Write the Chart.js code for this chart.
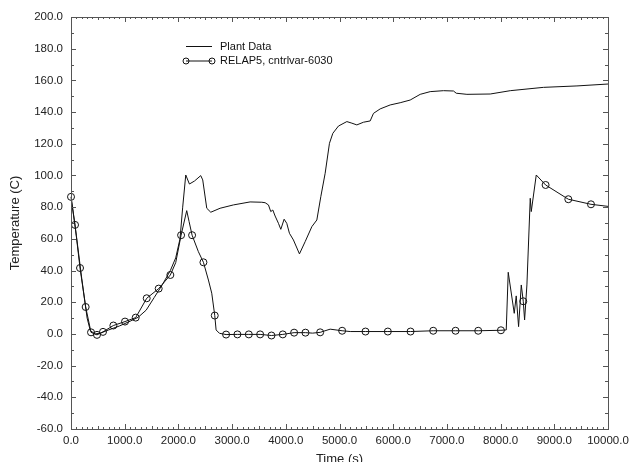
<!DOCTYPE html>
<html>
<head>
<meta charset="utf-8">
<script src="https://cdn.jsdelivr.net/npm/chart.js@4.4.1/dist/chart.umd.min.js"></script>
<style>
  html, body { margin: 0; padding: 0; background: #fff; }
</style>
</head>
<body>
<canvas id="chart" width="630" height="462"></canvas>
<script>
// Plant data (time in s, temperature in C)
const plantTime = [0, 100, 200, 300, 360, 450, 550, 700, 900, 1100, 1250, 1400, 1550, 1700, 1850, 1950, 2030, 2080, 2137, 2205, 2300, 2416, 2453, 2528, 2603, 2776, 3024, 3335, 3553, 3615, 3677, 3720, 3758, 3801, 3863, 3907, 3969, 4018, 4068, 4142, 4254, 4360, 4485, 4578, 4652, 4733, 4813, 4876, 4981, 5137, 5230, 5323, 5447, 5571, 5633, 5757, 5944, 6130, 6316, 6503, 6689, 6937, 7123, 7174, 7373, 7807, 8180, 8800, 9422, 10000];
const plantTemp = [86.5, 62, 35, 10, 2, 0, 0.5, 2.5, 5, 8, 10.5, 15, 23, 31, 40, 48, 60, 80, 100.3, 94.6, 96.5, 99.9, 97.2, 79.3, 76.8, 79.3, 81.4, 83.3, 83.1, 82.8, 81.4, 77.2, 78.2, 74.4, 69.8, 66, 72.4, 69.8, 63.5, 59.3, 50.5, 58.2, 67.7, 71.9, 86.6, 101.4, 120.3, 126.6, 131.2, 134, 133, 131.9, 133.6, 134.4, 139.2, 142, 144.5, 145.9, 147.6, 151.2, 152.9, 153.5, 153.3, 151.9, 151.2, 151.4, 153.5, 155.6, 156.5, 157.7];

// RELAP5 cntrlvar-6030
const relapTime = [0, 75, 168, 273, 373, 484, 596, 789, 1006, 1205, 1410, 1633, 1850, 1950, 2050, 2155, 2199, 2255, 2372, 2466, 2559, 2621, 2677, 2702, 2764, 2888, 3099, 3311, 3522, 3733, 3944, 4155, 4366, 4500, 4640, 4826, 5049, 5200, 5484, 5900, 6323, 6745, 7161, 7583, 8006, 8105, 8142, 8254, 8291, 8335, 8385, 8422, 8447, 8490, 8552, 8571, 8664, 8838, 9261, 9683, 10000];
const relapTemp = [86.5, 68.8, 41.6, 17, 1, -0.6, 1.3, 5.3, 7.8, 10.3, 22.5, 28.6, 37.2, 45, 62.3, 77.8, 70.9, 62.3, 51.9, 45.2, 34, 25.7, 11.6, 2.5, 0.4, -0.4, -0.3, -0.3, -0.3, -1, -0.3, 0.8, 0.8, 0.5, 1.0, 3, 2.0, 1.5, 1.5, 1.5, 1.5, 2.0, 2.0, 2.0, 2.3, 2.5, 38.9, 13, 24, 4.6, 30.9, 20.6, 8.8, 30.9, 85.6, 77.2, 100.3, 94, 85, 81.8, 80.5];
// times at which the RELAP5 curve carries a circle symbol
const relapMarkerTime = [0, 75, 168, 273, 373, 484, 596, 789, 1006, 1205, 1410, 1633, 1850, 2050, 2255, 2466, 2677, 2888, 3099, 3311, 3522, 3733, 3944, 4155, 4366, 4640, 5049, 5484, 5900, 6323, 6745, 7161, 7583, 8006, 8422, 8838, 9261, 9683];

const seriesNames = ["Plant Data", "RELAP5, cntrlvar-6030"];
const xMin = 0, xMax = 10000, xStep = 1000;
const yMin = -60, yMax = 200, yStep = 20;

const textFont = "'Liberation Sans', Arial, sans-serif";

// Box round the plot with small inward ticks on all four sides
const frameTicks = {
    id: 'frameTicks',
    afterDatasetsDraw(chart) {
        const { ctx, chartArea: a, scales: { x, y } } = chart;
        ctx.save();
        ctx.strokeStyle = '#555';
        ctx.lineWidth = 1;
        ctx.strokeRect(a.left + 0.5, a.top + 0.5, a.right - a.left, a.bottom - a.top);
        ctx.beginPath();
        for (let v = xMin; v <= xMax; v += 100) {
            const px = Math.round(x.getPixelForValue(v)) + 0.5;
            const len = v % 1000 === 0 ? 5 : (v % 500 === 0 ? 3 : 2);
            ctx.moveTo(px, a.bottom); ctx.lineTo(px, a.bottom - len);
            ctx.moveTo(px, a.top); ctx.lineTo(px, a.top + len);
        }
        for (let v = yMin; v <= yMax; v += 10) {
            const py = Math.round(y.getPixelForValue(v)) + 0.5;
            const len = v % 20 === 0 ? 5 : 3;
            ctx.moveTo(a.left, py); ctx.lineTo(a.left + len, py);
            ctx.moveTo(a.right, py); ctx.lineTo(a.right - len, py);
        }
        ctx.stroke();
        ctx.restore();
    }
};

// Legend drawn inside the plot, line sample with circles at both ends
const insideLegend = {
    id: 'insideLegend',
    afterDraw(chart) {
        const { ctx, chartArea: a } = chart;
        const x0 = a.left + 115, x1 = a.left + 141, tx = a.left + 149;
        const rows = [a.top + 29.5, a.top + 44];
        ctx.save();
        ctx.strokeStyle = '#111';
        ctx.fillStyle = '#111';
        ctx.lineWidth = 1;
        ctx.font = '11px ' + textFont;
        ctx.textBaseline = 'middle';
        chart.data.datasets.forEach((ds, i) => {
            const ly = rows[i];
            ctx.beginPath();
            ctx.moveTo(x0, ly); ctx.lineTo(x1, ly);
            ctx.stroke();
            if (i === 1) {
                [x0, x1].forEach(cx => {
                    ctx.beginPath();
                    ctx.arc(cx, ly, 3, 0, Math.PI * 2);
                    ctx.stroke();
                });
            }
            ctx.fillText(ds.label, tx, ly);
        });
        ctx.restore();
    }
};

const ctxEl = document.getElementById('chart');
new Chart(ctxEl, {
    type: 'line',
    plugins: [frameTicks, insideLegend],
    data: {
        datasets: [
            {
                label: seriesNames[0],
                data: plantTime.map((t, i) => ({ x: t, y: plantTemp[i] })),
                borderColor: '#111',
                borderWidth: 1,
                pointRadius: 0,
                tension: 0,
            },
            {
                label: seriesNames[1],
                data: relapTime.map((t, i) => ({ x: t, y: relapTemp[i] })),
                borderColor: '#111',
                borderWidth: 1,
                pointRadius: c => relapMarkerTime.includes(relapTime[c.dataIndex]) ? 3.5 : 0,
                pointBorderWidth: 1,
                pointBorderColor: '#111',
                pointBackgroundColor: 'rgba(0,0,0,0)',
                tension: 0,
                clip: 5,
            },
        ],
    },
    options: {
        responsive: false,
        animation: false,
        layout: { padding: { top: 17, right: 22, left: 0, bottom: 0 } },
        plugins: {
            legend: { display: false },
            tooltip: { enabled: false },
        },
        scales: {
            x: {
                type: 'linear',
                min: xMin,
                max: xMax,
                afterFit: s => { s.height = 33; s.paddingLeft = 0; s.paddingRight = 0; },
                grid: { display: false, drawTicks: false },
                border: { display: false },
                ticks: {
                    stepSize: xStep,
                    padding: 5,
                    color: '#222',
                    font: { family: textFont, size: 11.5 },
                    maxRotation: 0,
                    callback: v => v.toFixed(1),
                },
                title: {
                    display: true,
                    text: 'Time (s)',
                    color: '#222',
                    font: { family: textFont, size: 13 },
                    padding: { top: 0, bottom: -5 },
                },
            },
            y: {
                type: 'linear',
                min: yMin,
                max: yMax,
                afterFit: s => { s.width = 71; s.paddingTop = 0; s.paddingBottom = 0; },
                grid: { display: false, drawTicks: false },
                border: { display: false },
                ticks: {
                    stepSize: yStep,
                    padding: 8,
                    color: '#222',
                    font: { family: textFont, size: 11.5 },
                    callback: v => v.toFixed(1),
                },
                title: {
                    display: true,
                    text: 'Temperature (C)',
                    color: '#222',
                    font: { family: textFont, size: 13 },
                    padding: { top: 8, bottom: 0 },
                },
            },
        },
    },
});
</script>
</body>
</html>
